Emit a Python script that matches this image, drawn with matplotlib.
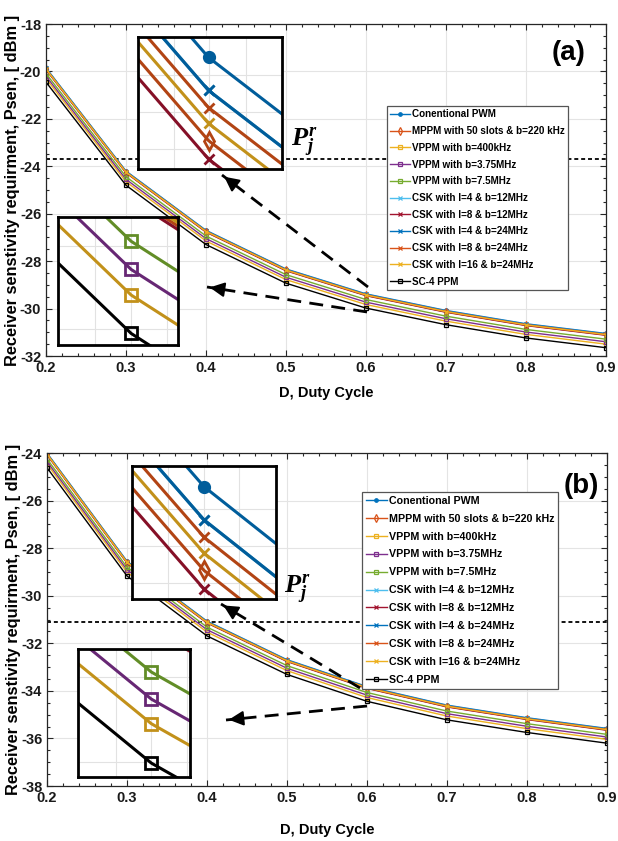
import matplotlib
matplotlib.use('Agg')
import matplotlib.pyplot as plt
import matplotlib.colors as mcolors
from matplotlib.lines import Line2D
from matplotlib.ticker import MultipleLocator

plt.rcParams['font.family'] = ['Liberation Sans', 'DejaVu Sans']
plt.rcParams['font.weight'] = 'bold'
plt.rcParams['axes.unicode_minus'] = False
plt.rcParams['mathtext.fontset'] = 'custom'
plt.rcParams['mathtext.it'] = 'Liberation Serif:italic:bold'
plt.rcParams['mathtext.rm'] = 'Liberation Serif:bold'

# ---------------- data ----------------
duty = [0.2, 0.3, 0.4, 0.5, 0.6, 0.7, 0.8, 0.9]
xtick_labels = ['0.2', '0.3', '0.4', '0.5', '0.6', '0.7', '0.8', '0.9']
series_labels = ['Conentional PWM', 'MPPM with 50 slots & b=220 kHz', 'VPPM with b=400kHz',
                 'VPPM with b=3.75MHz', 'VPPM with b=7.5MHz', 'CSK with l=4 & b=12MHz',
                 'CSK with l=8 & b=12MHz', 'CSK with l=4 & b=24MHz', 'CSK with l=8 & b=24MHz',
                 'CSK with l=16 & b=24MHz', 'SC-4 PPM']

# panel (a)
pwm_a      = [-19.850, -24.200, -26.700, -28.330, -29.380, -30.080, -30.640, -31.050]
mppm_a     = [-19.913, -24.263, -26.763, -28.393, -29.443, -30.143, -30.703, -31.113]
vppm400k_a = [-20.300, -24.650, -27.150, -28.780, -29.830, -30.530, -31.090, -31.500]
vppm375_a  = [-20.200, -24.550, -27.050, -28.680, -29.730, -30.430, -30.990, -31.400]
vppm75_a   = [-20.090, -24.440, -26.940, -28.570, -29.620, -30.320, -30.880, -31.290]
csk4_12_a  = [-19.875, -24.225, -26.725, -28.355, -29.405, -30.105, -30.665, -31.075]
csk8_12_a  = [-19.927, -24.277, -26.777, -28.407, -29.457, -30.157, -30.717, -31.127]
csk4_24_a  = [-19.875, -24.225, -26.725, -28.355, -29.405, -30.105, -30.665, -31.075]
csk8_24_a  = [-19.888, -24.238, -26.738, -28.368, -29.418, -30.118, -30.678, -31.088]
csk16_24_a = [-19.900, -24.250, -26.750, -28.380, -29.430, -30.130, -30.690, -31.100]
sc4ppm_a   = [-20.450, -24.800, -27.300, -28.930, -29.980, -30.680, -31.240, -31.650]
threshold_a = -23.7

# panel (b)
pwm_b      = [-24.000, -28.550, -31.070, -32.690, -33.820, -34.600, -35.130, -35.580]
mppm_b     = [-24.063, -28.613, -31.133, -32.753, -33.883, -34.663, -35.193, -35.643]
vppm400k_b = [-24.460, -29.010, -31.530, -33.150, -34.280, -35.060, -35.590, -36.040]
vppm375_b  = [-24.360, -28.910, -31.430, -33.050, -34.180, -34.960, -35.490, -35.940]
vppm75_b   = [-24.250, -28.800, -31.320, -32.940, -34.070, -34.850, -35.380, -35.830]
csk4_12_b  = [-24.025, -28.575, -31.095, -32.715, -33.845, -34.625, -35.155, -35.605]
csk8_12_b  = [-24.077, -28.627, -31.147, -32.767, -33.897, -34.677, -35.207, -35.657]
csk4_24_b  = [-24.025, -28.575, -31.095, -32.715, -33.845, -34.625, -35.155, -35.605]
csk8_24_b  = [-24.038, -28.588, -31.108, -32.728, -33.858, -34.638, -35.168, -35.618]
csk16_24_b = [-24.050, -28.600, -31.120, -32.740, -33.870, -34.650, -35.180, -35.630]
sc4ppm_b   = [-24.620, -29.170, -31.690, -33.310, -34.440, -35.220, -35.750, -36.200]
threshold_b = -31.1

# ---------------- styles ----------------
colors = ['#0072BD', '#D95319', '#EDB120', '#7E2F8E', '#77AC30', '#4DBEEE',
          '#A2142F', '#0072BD', '#D95319', '#EDB120', '#000000']
markers = ['.', 'd', 's', 's', 's', 'x', 'x', 'x', 'x', 'x', 's']
ms_main = {'.': 5, 'd': 4, 's': 3.5, 'x': 3.5}
ms_inset = {'.': 15, 'd': 9, 's': 8, 'x': 7}


def darker(c, f=0.82):
    r, g, b = mcolors.to_rgb(c)
    return (r * f, g * f, b * f)


inset_colors = [darker(c) for c in colors]

W, H = 618, 841
fig = plt.figure(figsize=(W / 100, H / 100), dpi=100)


def frect(x0, y0, x1, y1):
    return [x0 / W, 1 - y1 / H, (x1 - x0) / W, (y1 - y0) / H]


def fpt(x, y):
    return (x / W, 1 - y / H)


def plot_series(ax, data, cols, lw, msd, mew):
    for vals, c, m, lab in zip(data, cols, markers, series_labels):
        ax.plot(duty, vals, color=c, lw=lw, marker=m, ms=msd[m],
                mfc=('none' if m in ('s', 'd') else c), mec=c, mew=mew, label=lab)


def dashed_arrow(tail, head):
    tx, ty = fpt(*tail)
    hx, hy = fpt(*head)
    fig.add_artist(Line2D([tx, hx], [ty, hy], transform=fig.transFigure,
                          color='k', lw=2, dashes=(5, 3)))
    bx = hx + (tx - hx) * 0.08
    by = hy + (ty - hy) * 0.08
    fig.add_artist(matplotlib.patches.FancyArrowPatch(
        (bx, by), (hx, hy), transform=fig.transFigure, arrowstyle='-|>',
        mutation_scale=22, color='k', lw=1.5))


def make_inset(rect, data, x_frac, x_width, ref_vals, y_frac, y_height, vgrid, hgrid):
    ax = fig.add_axes(rect)
    plot_series(ax, data, inset_colors, 2.2, ms_inset, 2)
    x0 = 0.6 - x_frac * x_width
    ytop = ref_vals[4] + y_frac * y_height
    ax.set_xlim(x0, x0 + x_width)
    ax.set_ylim(ytop - y_height, ytop)
    ax.set_xticks([x0 + f * x_width for f in vgrid])
    ax.set_yticks([ytop - f * y_height for f in hgrid])
    ax.tick_params(length=0, labelbottom=False, labelleft=False)
    ax.grid(True, color='#e2e2e2', lw=0.8)
    ax.set_axisbelow(True)
    for s in ax.spines.values():
        s.set_color('k')
        s.set_linewidth(2)
    return ax


def make_panel(rect, data, ylim, threshold, panel_label, label_pos, p_pos,
               legend_box, legend_fs, legend_ls, xlabel_y):
    ax = fig.add_axes(rect)
    plot_series(ax, data, colors, 1.0, ms_main, 0.9)
    ax.axhline(threshold, color='k', lw=1.3, dashes=(2.2, 1.6), zorder=1)
    ax.set_xlim(0.2, 0.9)
    ax.set_ylim(*ylim)
    ax.set_xticks(duty)
    ax.set_xticklabels(xtick_labels)
    ax.yaxis.set_major_locator(MultipleLocator(2))
    ax.yaxis.set_minor_locator(MultipleLocator(0.5))
    ax.xaxis.set_minor_locator(MultipleLocator(0.02))
    ax.tick_params(which='both', direction='in', top=True, right=True, colors='#262626',
                   labelsize=10.5, width=0.8)
    ax.tick_params(which='major', length=4)
    ax.tick_params(which='minor', length=2)
    for t in ax.get_xticklabels() + ax.get_yticklabels():
        t.set_fontweight('bold')
        t.set_color('#1a1a1a')
    ax.grid(True, which='major', color='#e4e4e4', lw=0.8)
    ax.set_axisbelow(True)
    for s in ax.spines.values():
        s.set_color('#262626')
        s.set_linewidth(0.9)
    ax.set_xlabel('D, Duty Cycle', fontsize=10.5, fontweight='bold')
    ax.xaxis.set_label_coords(0.5, xlabel_y)
    ax.set_ylabel('Receiver senstivity requirment, Psen, [ dBm ]', fontsize=11.8,
                  fontweight='bold')
    ax.yaxis.set_label_coords(-0.047, 0.5)
    fig.text(*fpt(*label_pos), panel_label, fontsize=20, fontweight='bold',
             ha='center', va='center')
    fig.text(*fpt(*p_pos), r'$P_j^r$', fontsize=19, ha='center', va='center')
    lx0, ly0, lx1, ly1 = legend_box
    leg = ax.legend(loc='upper left', bbox_to_anchor=fpt(lx0, ly0),
                    bbox_transform=fig.transFigure, borderaxespad=0,
                    prop={'size': legend_fs, 'weight': 'bold'},
                    labelspacing=legend_ls,
                    handlelength=2.0, handletextpad=0.15, borderpad=0.35,
                    fancybox=False, framealpha=1, edgecolor='#555555')
    leg.get_frame().set_linewidth(0.9)
    return ax


data_a = [pwm_a, mppm_a, vppm400k_a, vppm375_a, vppm75_a, csk4_12_a, csk8_12_a,
          csk4_24_a, csk8_24_a, csk16_24_a, sc4ppm_a]
data_b = [pwm_b, mppm_b, vppm400k_b, vppm375_b, vppm75_b, csk4_12_b, csk8_12_b,
          csk4_24_b, csk8_24_b, csk16_24_b, sc4ppm_b]

# panel (a)
make_panel(frect(46, 24, 606, 356), data_a, (-32, -18), threshold_a, '(a)', (569, 53),
           (305, 142), (387, 106, 568, 286), 7.1, 0.68, -0.09)
make_inset(frect(138, 37, 282, 169), data_a, 0.49, 0.012, pwm_a, 0.155, 0.1,
           [0.25, 0.49, 0.75], [0.29, 0.57, 0.845])
make_inset(frect(58, 217, 178, 345), data_a, 0.61, 0.043, vppm75_a, 0.19, 0.5,
           [0.31, 0.61, 0.91], [0.23, 0.875])
dashed_arrow((368, 287), (222, 175))
dashed_arrow((367, 312), (207, 287))

# panel (b)
make_panel(frect(47, 453, 607, 786), data_b, (-38, -24), threshold_b, '(b)', (581, 486),
           (298, 589), (362, 492, 559, 688), 7.7, 0.74, -0.11)
make_inset(frect(132, 466, 276, 599), data_b, 0.5, 0.011, pwm_b, 0.155, 0.1,
           [0.25, 0.5, 0.74], [0.32, 0.6, 0.88])
make_inset(frect(78, 649, 190, 777), data_b, 0.655, 0.033, vppm75_b, 0.18, 0.52,
           [0.34, 0.655, 0.97], [0.22, 0.88])
dashed_arrow((360, 688), (221, 604))
dashed_arrow((367, 706), (226, 720))

fig.savefig('out.png', dpi=100)
